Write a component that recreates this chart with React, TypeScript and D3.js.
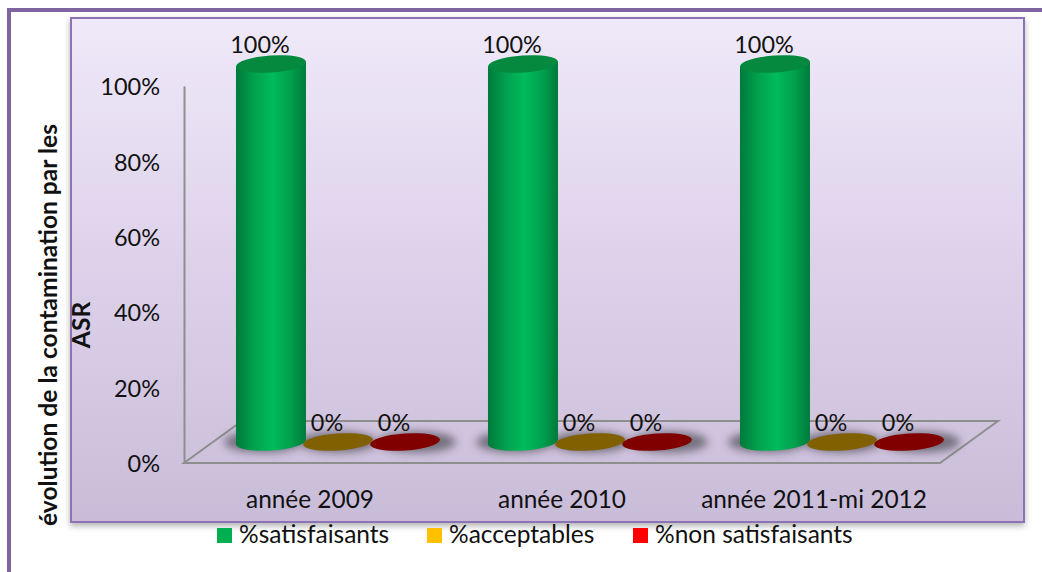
import React, { useEffect, useRef } from "react";
import * as d3 from "d3";

const categories = ["année 2009", "année 2010", "année 2011-mi 2012"];
const seriesNames = ["%satisfaisants", "%acceptables", "%non satisfaisants"];
const satisfaisants = [100, 100, 100];
const acceptables = [0, 0, 0];
const nonSatisfaisants = [0, 0, 0];
const yTicks = [0, 20, 40, 60, 80, 100];
const legendColors = ["#00b050", "#ffc000", "#ff0000"];
const capColors = ["#05893f", "#806000", "#800000"];

const FONT = "Lato, 'Open Sans', sans-serif";

const App = () => {
  const svgRef = useRef<SVGSVGElement>(null);

  useEffect(() => {
    const svg = d3.select(svgRef.current);
    svg.selectAll("*").remove();

    const defs = svg.append("defs");
    const panelGrad = defs.append("linearGradient").attr("id", "panelGrad").attr("x2", 0).attr("y2", 1);
    panelGrad.append("stop").attr("offset", "0%").attr("stop-color", "#efe9f9");
    panelGrad.append("stop").attr("offset", "50%").attr("stop-color", "#ddd1ea");
    panelGrad.append("stop").attr("offset", "100%").attr("stop-color", "#c9bcd8");

    const greenGrad = defs.append("linearGradient").attr("id", "greenGrad");
    greenGrad.append("stop").attr("offset", "0%").attr("stop-color", "#007a3a");
    greenGrad.append("stop").attr("offset", "25%").attr("stop-color", "#00a04e");
    greenGrad.append("stop").attr("offset", "52%").attr("stop-color", "#00bb5b");
    greenGrad.append("stop").attr("offset", "78%").attr("stop-color", "#00a04e");
    greenGrad.append("stop").attr("offset", "100%").attr("stop-color", "#007a3a");

    defs.append("filter").attr("id", "blur").attr("x", "-30%").attr("y", "-100%").attr("width", "160%").attr("height", "300%")
      .append("feGaussianBlur").attr("stdDeviation", 4);
    defs.append("filter").attr("id", "panelShadow").attr("x", "-3%").attr("y", "-3%").attr("width", "106%").attr("height", "106%")
      .append("feDropShadow").attr("dx", 0).attr("dy", 3).attr("stdDeviation", 3).attr("flood-color", "#000").attr("flood-opacity", 0.3);

    // outer frame, runs off the picture on the right and bottom
    svg.append("rect").attr("x", 9).attr("y", 10).attr("width", 1045).attr("height", 575)
      .attr("fill", "#fff").attr("stroke", "#8064a2").attr("stroke-width", 4);

    // panel
    svg.append("rect").attr("x", 71).attr("y", 18).attr("width", 953).attr("height", 504)
      .attr("fill", "url(#panelGrad)").attr("stroke", "#8d73b4").attr("stroke-width", 2)
      .attr("filter", "url(#panelShadow)");

    // scales
    const y = d3.scaleLinear().domain([0, 100]).range([463, 86]);
    const x0 = d3.scaleBand().domain(categories).range([184, 940]);
    const x1 = d3.scaleBand().domain(seriesNames).range([0, x0.bandwidth()]).paddingOuter(0.38).paddingInner(0);
    const depth = { x: 58, y: -42 };
    const rx = 35;
    const ry = 8.5;
    const tilt = -4;
    const lean = 2.5;

    // floor
    const floorPts = [
      [x0.range()[0], y(0)],
      [x0.range()[1], y(0)],
      [x0.range()[1] + depth.x, y(0) + depth.y],
      [x0.range()[0] + depth.x, y(0) + depth.y],
    ];
    svg.append("path")
      .attr("d", d3.line()(floorPts as [number, number][]) + "Z")
      .attr("fill", "none").attr("stroke", "#8e8e8e").attr("stroke-width", 2);

    // y axis
    const axis = svg.append("g").attr("transform", `translate(${x0.range()[0]},0)`)
      .call(d3.axisLeft(y).tickValues(yTicks).tickSize(0).tickPadding(24).tickFormat((d) => `${d}%`));
    axis.select(".domain").attr("stroke", "#8e8e8e").attr("stroke-width", 2);
    axis.selectAll("text").attr("font-family", FONT).attr("font-size", 23.5).attr("fill", "#111").attr("dy", "0.37em");

    // x labels
    svg.append("g").selectAll("text").data(categories).enter().append("text")
      .attr("x", (d) => x0(d)! + x0.bandwidth() / 2)
      .attr("y", 508)
      .attr("text-anchor", "middle")
      .attr("font-family", FONT).attr("font-size", 24.4).attr("fill", "#111")
      .text((d) => d);

    // cylinders
    const allSeries = [satisfaisants, acceptables, nonSatisfaisants];
    const rows = allSeries.flatMap((values, s) =>
      values.map((v, c) => ({ v, s, cat: categories[c], name: seriesNames[s] }))
    );
    const cx = (d) => x0(d.cat)! + x1(d.name)! + x1.bandwidth() / 2 + depth.x / 2 - 1;
    const base = y(0) + depth.y / 2;
    const top = (d) => y(d.v) + depth.y / 2 - (d.v > 0 ? 1 : 0);
    const rot = (d, yy) => `rotate(${tilt} ${cx(d)} ${yy})`;

    const bars = svg.append("g");
    bars.selectAll("ellipse.shadow").data(rows).enter().append("ellipse")
      .attr("class", "shadow")
      .attr("cx", (d) => cx(d) + (d.s === 0 ? -8 : d.s === 2 ? 12 : 0))
      .attr("cy", base)
      .attr("rx", rx + 4)
      .attr("ry", ry + 2)
      .attr("fill", "#5c5a64").attr("opacity", 0.8)
      .attr("filter", "url(#blur)");

    rows.forEach((d) => {
      const g = bars.append("g");
      if (d.v > 0) {
        const X = cx(d);
        const path = d3.path();
        path.moveTo(X - rx, top(d) + lean);
        path.lineTo(X - rx, base + lean);
        const arc = `A${rx} ${ry} ${tilt} 0 0 ${X + rx} ${base - lean}`;
        g.append("path")
          .attr("d", `${path.toString()}${arc}L${X + rx} ${top(d) - lean}Z`)
          .attr("fill", "url(#greenGrad)");
      }
      g.append("ellipse")
        .attr("cx", cx(d)).attr("cy", top(d))
        .attr("rx", rx).attr("ry", ry)
        .attr("transform", rot(d, top(d)))
        .attr("fill", capColors[d.s]);
      g.append("text")
        .attr("x", cx(d) - 11)
        .attr("y", top(d) - (d.v > 0 ? 11 : 11))
        .attr("text-anchor", "middle")
        .attr("font-family", FONT).attr("font-size", 23.4).attr("fill", "#111")
        .text(`${d.v}%`);
    });

    // y title
    const title = svg.append("text")
      .attr("transform", "translate(57,325) rotate(-90)")
      .attr("text-anchor", "middle")
      .attr("font-family", FONT).attr("font-size", 24.6).attr("font-weight", 700).attr("fill", "#111");
    title.append("tspan").attr("x", 0).attr("y", 0).text("évolution de la contamination par les");
    title.append("tspan").attr("x", 0).attr("y", 33).text("ASR");

    // legend
    const legendX = [217, 427, 633];
    const legend = svg.append("g").selectAll("g").data(seriesNames).enter().append("g")
      .attr("transform", (_, i) => `translate(${legendX[i]},528)`);
    legend.append("rect").attr("width", 15).attr("height", 15).attr("fill", (_, i) => legendColors[i]);
    legend.append("text").attr("x", 22).attr("y", 15)
      .attr("font-family", FONT).attr("font-size", 24.5).attr("fill", "#111")
      .text((d) => d);
  }, []);

  return (
    <svg
      ref={svgRef}
      width={1042}
      height={572}
      style={{ position: "absolute", left: 0, top: 0, background: "#fff" }}
    />
  );
};

export default App;
